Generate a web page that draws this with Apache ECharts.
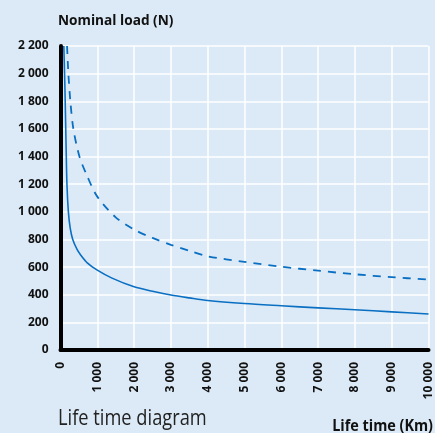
<!DOCTYPE html>
<html>
<head>
<meta charset="utf-8">
<script src="https://cdn.jsdelivr.net/npm/echarts@6/dist/echarts.min.js"></script>
<style>
  html, body { margin: 0; padding: 0; background: #dbeaf6; }
  #chart { width: 435px; height: 433px; }
</style>
</head>
<body>
<div id="chart"></div>
<script>
// life time (km) vs nominal load (N)
const solidLine = [
  [90, 2200], [120, 1900], [150, 1500], [175, 1200], [214, 1000], [265, 880],
  [333, 800], [450, 728], [543, 690], [727, 631], [1000, 578], [1400, 520],
  [2000, 457], [2500, 425], [3000, 398], [3500, 377], [4000, 358], [5000, 336],
  [6000, 320], [7000, 305], [8000, 291], [9000, 276], [10000, 261]
]
const dashedLine = [
  [178, 2200], [214, 2000], [268, 1800], [350, 1600], [515, 1400], [718, 1263],
  [1000, 1110], [1500, 960], [2000, 872], [2500, 811], [3000, 761], [3500, 718],
  [4000, 678], [5000, 638], [6000, 603], [7000, 574], [8000, 548], [9000, 527],
  [10000, 510]
]
const yTicks = { min: 0, max: 2200, step: 200 }
const xTicks = { min: 0, max: 10000, step: 1000 }

const fmt = v => String(v).replace(/\B(?=(\d{3})+(?!\d))/g, ' ')
const lineColor = '#0a6fc2'
const font = '"Open Sans", "Noto Sans", sans-serif'

const chart = echarts.init(document.getElementById('chart'))
chart.setOption({
  backgroundColor: '#dbeaf6',
  animation: false,
  grid: { left: 60.5, right: 6.5, top: 46, bottom: 83 },
  graphic: [
    {
      type: 'text', x: 58, y: 21, scaleX: 0.91,
      style: { text: 'Nominal load (N)', font: 'bold 15px ' + font, fill: '#111', verticalAlign: 'middle' }
    },
    {
      type: 'text', x: 58, y: 419, scaleX: 0.87,
      style: { text: 'Life time diagram', font: '21px ' + font, fill: '#222', verticalAlign: 'middle' }
    },
    {
      type: 'text', x: 433, y: 426, scaleX: 0.9,
      style: { text: 'Life time (Km)', font: 'bold 16px ' + font, fill: '#111', align: 'right', verticalAlign: 'middle' }
    }
  ],
  xAxis: {
    type: 'value',
    min: xTicks.min,
    max: xTicks.max,
    interval: xTicks.step,
    axisLine: { show: true, onZero: false, lineStyle: { color: '#000', width: 4 } },
    axisTick: { show: false },
    splitLine: { show: true, lineStyle: { color: '#ffffff', width: 1.5 } },
    axisLabel: {
      rotate: 90,
      margin: 12,
      formatter: fmt,
      fontFamily: font,
      fontWeight: 'bold',
      fontSize: 12,
      color: '#111'
    }
  },
  yAxis: {
    type: 'value',
    min: yTicks.min,
    max: yTicks.max,
    interval: yTicks.step,
    axisLine: { show: true, onZero: false, lineStyle: { color: '#000', width: 4 } },
    axisTick: { show: false },
    splitLine: { show: true, lineStyle: { color: '#ffffff', width: 1.5 } },
    axisLabel: {
      margin: 12,
      formatter: fmt,
      fontFamily: font,
      fontWeight: 'bold',
      fontSize: 12,
      color: '#111'
    }
  },
  series: [
    {
      type: 'line',
      data: dashedLine,
      smooth: 0.3,
      showSymbol: false,
      lineStyle: { color: lineColor, width: 1.8, type: [8, 7] },
      z: 3
    },
    {
      type: 'line',
      data: solidLine,
      smooth: 0.3,
      showSymbol: false,
      lineStyle: { color: lineColor, width: 1.6 },
      z: 3
    }
  ]
})
</script>
</body>
</html>
